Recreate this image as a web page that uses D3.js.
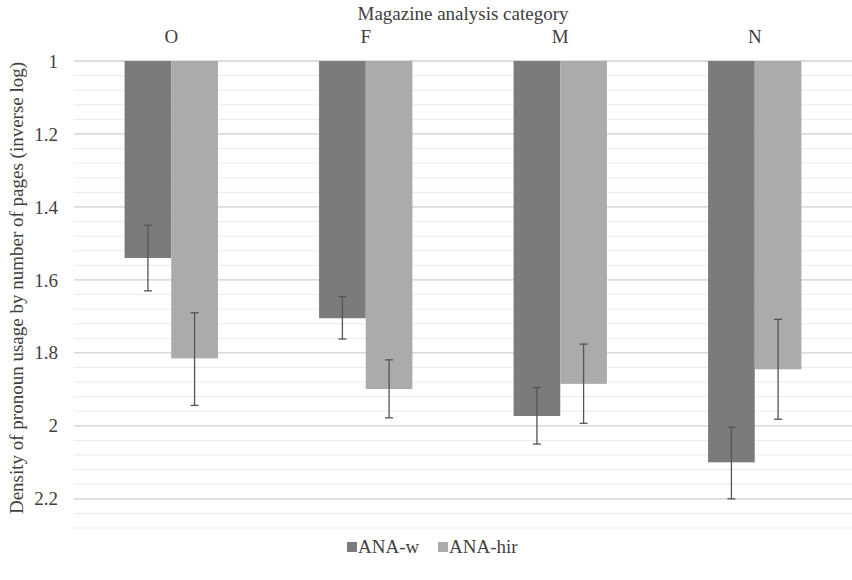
<!DOCTYPE html>
<html>
<head>
<meta charset="utf-8">
<script src="https://cdn.jsdelivr.net/npm/d3@7"></script>
<style>
  body { margin: 0; background: #fff; }
  svg text { font-family: 'Liberation Serif', 'DejaVu Serif', serif !important; fill: #404040; }
</style>
</head>
<body>
<div id="chart"></div>
<script>
// data
var categories = ['O', 'F', 'M', 'N'];
var seriesNames = ['ANA-w', 'ANA-hir'];
var anaW    = [1.54, 1.705, 1.973, 2.10];
var anaWLo  = [1.45, 1.646, 1.895, 2.004];
var anaWHi  = [1.63, 1.762, 2.05, 2.20];
var anaHir   = [1.815, 1.899, 1.885, 1.845];
var anaHirLo = [1.69, 1.819, 1.776, 1.708];
var anaHirHi = [1.944, 1.978, 1.993, 1.982];
var yTicks = [1, 1.2, 1.4, 1.6, 1.8, 2, 2.2];
var colors = ['#7b7b7b', '#ababab'];

var W = 852, H = 580;
var margin = {top: 61, right: 0, bottom: 52, left: 74};
var width = W - margin.left - margin.right,
    height = 528 - margin.top;
var fontSize = '19px';

var svg = d3.select('#chart').append('svg')
    .attr('width', W)
    .attr('height', H)
    .attr('font-family', "'Liberation Serif', serif");
var g = svg.append('g')
    .attr('transform', 'translate(' + margin.left + ',' + margin.top + ')');

var x = d3.scaleBand()
  .domain(categories)
  .range([0, width])
  .paddingInner(0.52)
  .paddingOuter(0.26);
var x1 = d3.scaleBand()
  .domain(seriesNames)
  .range([0, x.bandwidth()]);

var y = d3.scaleLinear()
  .domain([1, 2.28])
  .range([0, height]);

// minor gridlines every 0.04
var minor = d3.range(0, 33).map(function(i) { return 1 + i * 0.04; });
g.selectAll('.minor')
  .data(minor)
  .enter().append('line')
    .attr('x1', 0).attr('x2', width)
    .attr('y1', function(d) { return y(d); })
    .attr('y2', function(d) { return y(d); })
    .attr('stroke', '#ebebeb')
    .attr('stroke-width', 1);

// major gridlines
g.selectAll('.major')
  .data(yTicks)
  .enter().append('line')
    .attr('x1', 0).attr('x2', width)
    .attr('y1', function(d) { return y(d); })
    .attr('y2', function(d) { return y(d); })
    .attr('stroke', '#d4d4d4')
    .attr('stroke-width', 1.3);

// Y axis labels
var yAxis = g.append('g')
  .call(d3.axisLeft(y).tickValues(yTicks).tickSize(0).tickPadding(16).tickFormat(d3.format('')));
yAxis.attr('font-family', null).attr('font-size', null);
yAxis.select('.domain').remove();
yAxis.selectAll('text')
  .style('font-size', fontSize);

// X axis on top
var xAxis = g.append('g')
  .call(d3.axisTop(x).tickSize(0).tickPadding(18));
xAxis.attr('font-family', null).attr('font-size', null);
xAxis.select('.domain').remove();
xAxis.selectAll('text')
  .style('font-size', fontSize);

var series = [
  {name: seriesNames[0], v: anaW, lo: anaWLo, hi: anaWHi},
  {name: seriesNames[1], v: anaHir, lo: anaHirLo, hi: anaHirHi}
];

series.forEach(function(s, si) {
  var rows = categories.map(function(c, i) {
    return {cat: c, v: s.v[i], lo: s.lo[i], hi: s.hi[i]};
  });
  var cx = function(d) { return x(d.cat) + x1(s.name) + x1.bandwidth() / 2; };

  g.selectAll('.bar' + si)
    .data(rows)
    .enter().append('rect')
      .attr('x', function(d) { return x(d.cat) + x1(s.name); })
      .attr('y', y(1))
      .attr('width', x1.bandwidth())
      .attr('height', function(d) { return y(d.v) - y(1); })
      .attr('fill', colors[si]);

  // error bars
  g.selectAll('.err' + si)
    .data(rows)
    .enter().append('line')
      .attr('x1', cx).attr('x2', cx)
      .attr('y1', function(d) { return y(d.lo); })
      .attr('y2', function(d) { return y(d.hi); })
      .attr('stroke', '#555').attr('stroke-width', 1.3);
  ['lo', 'hi'].forEach(function(k) {
    g.selectAll('.cap' + si + k)
      .data(rows)
      .enter().append('line')
        .attr('x1', function(d) { return cx(d) - 4; })
        .attr('x2', function(d) { return cx(d) + 4; })
        .attr('y1', function(d) { return y(d[k]); })
        .attr('y2', function(d) { return y(d[k]); })
        .attr('stroke', '#555').attr('stroke-width', 1.3);
  });
});

// titles
svg.append('text')
  .attr('x', margin.left + width / 2)
  .attr('y', 20)
  .attr('text-anchor', 'middle')
  .style('font-size', fontSize)
  .text('Magazine analysis category');

svg.append('text')
  .attr('transform', 'translate(23,' + 288 + ') rotate(-90)')
  .attr('text-anchor', 'middle')
  .style('font-size', fontSize)
  .text('Density of pronoun usage by number of pages (inverse log)');

// legend
var legend = svg.append('g').attr('transform', 'translate(347,547)');
var lx = [0, 91];
seriesNames.forEach(function(n, i) {
  legend.append('rect')
    .attr('x', lx[i]).attr('y', -5)
    .attr('width', 10).attr('height', 10)
    .attr('fill', colors[i]);
  legend.append('text')
    .attr('x', lx[i] + 11).attr('y', 6)
    .style('font-size', fontSize)
    .text(n);
});
</script>
</body>
</html>
